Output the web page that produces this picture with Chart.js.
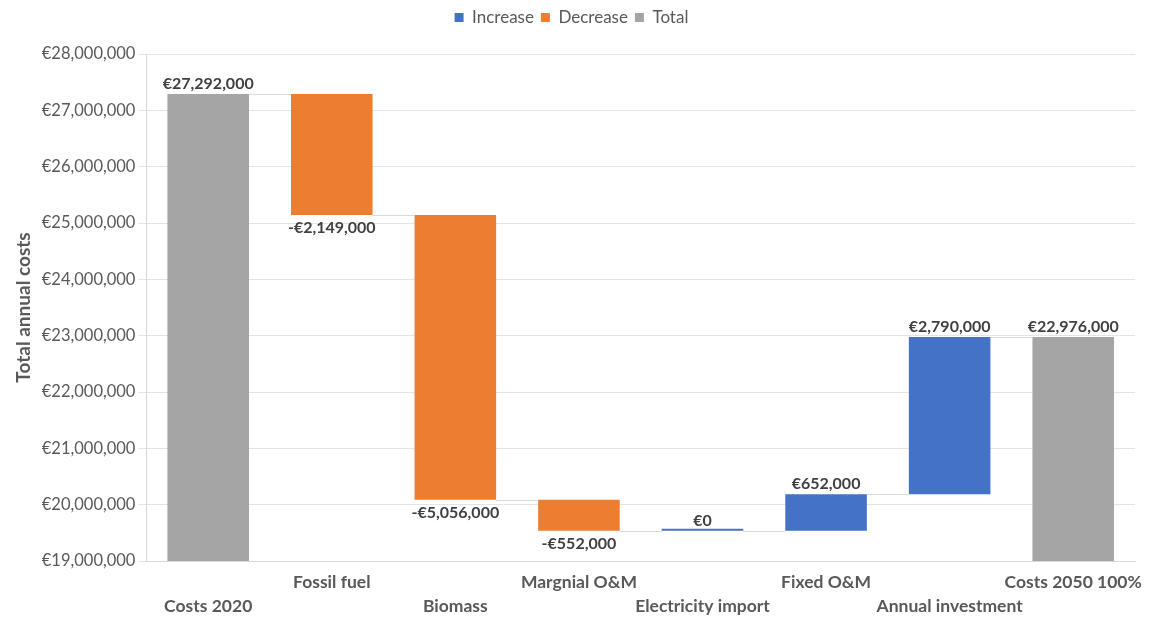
<!DOCTYPE html>
<html lang="en">
<head>
    <meta charset="UTF-8">
    <title>Total annual costs waterfall</title>
    <script src="https://cdn.jsdelivr.net/npm/chart.js"></script>
    <style>
        html, body { margin: 0; padding: 0; background: #fff; }
        #wrap { width: 1149px; height: 619px; }
    </style>
</head>
<body>
    <div id="wrap"><canvas id="waterfall"></canvas></div>

    <script>
        // Chart data
        const categories = ['Costs 2020', 'Fossil fuel', 'Biomass', 'Margnial O&M', 'Electricity import', 'Fixed O&M', 'Annual investment', 'Costs 2050 100%'];
        const kinds = ['total', 'decrease', 'decrease', 'decrease', 'increase', 'increase', 'increase', 'total'];
        const values = [27292000, -2149000, -5056000, -552000, 0, 652000, 2790000, 22976000];
        const yTicks = { min: 19000000, max: 28000000, step: 1000000 };

        const colors = { increase: '#4472C4', decrease: '#ED7D31', total: '#A5A5A5' };
        const FONT = 'Lato, "Open Sans", sans-serif';

        // build floating bar ranges from the running total
        const ranges = [];
        let running = 0;
        values.forEach((v, i) => {
            if (kinds[i] === 'total') {
                ranges.push([0, v]);
                running = v;
            } else {
                ranges.push([running, running + v]);
                running += v;
            }
        });

        function seriesFor(kind) {
            return ranges.map((r, i) => kinds[i] === kind ? r : null);
        }

        const euro = v => (v < 0 ? '-€' : '€') + Math.abs(v).toLocaleString('en-US');

        // extra room under the legend
        const legendGap = {
            id: 'legendGap',
            beforeInit(chart) {
                const fit = chart.legend.fit;
                chart.legend.fit = function () {
                    fit.bind(chart.legend)();
                    this.height += 18;
                };
            }
        };

        // connectors + value labels
        const waterfallExtras = {
            id: 'waterfallExtras',
            afterDatasetsDraw(chart) {
                const ctx = chart.ctx;
                const y = chart.scales.y;
                const bars = categories.map((c, i) => {
                    for (let d = 0; d < chart.data.datasets.length; d++) {
                        if (chart.data.datasets[d].data[i]) return chart.getDatasetMeta(d).data[i];
                    }
                });

                ctx.save();
                ctx.strokeStyle = '#d9d9d9';
                ctx.lineWidth = 1;
                for (let i = 0; i < bars.length - 1; i++) {
                    const level = ranges[i][1];
                    const py = Math.round(y.getPixelForValue(level)) + 0.5;
                    ctx.beginPath();
                    ctx.moveTo(bars[i].x + bars[i].width / 2, py);
                    ctx.lineTo(bars[i + 1].x - bars[i + 1].width / 2, py);
                    ctx.stroke();
                }

                ctx.fillStyle = '#404040';
                ctx.font = 'bold 16px ' + FONT;
                ctx.textAlign = 'center';
                values.forEach((v, i) => {
                    const top = y.getPixelForValue(Math.max(ranges[i][0], ranges[i][1]));
                    const bottom = y.getPixelForValue(Math.min(ranges[i][0], ranges[i][1]));
                    if (kinds[i] === 'decrease') {
                        ctx.textBaseline = 'top';
                        ctx.fillText(euro(v), bars[i].x, bottom + 5);
                    } else {
                        ctx.textBaseline = 'bottom';
                        ctx.fillText(euro(v), bars[i].x, top - 2);
                    }
                });
                ctx.restore();
            }
        };

        const dsBase = { grouped: false, categoryPercentage: 1, barPercentage: 0.66, borderSkipped: false };

        new Chart(document.getElementById('waterfall'), {
            type: 'bar',
            data: {
                labels: categories,
                datasets: [
                    { ...dsBase, label: 'Increase', data: seriesFor('increase'), backgroundColor: colors.increase, minBarLength: 2 },
                    { ...dsBase, label: 'Decrease', data: seriesFor('decrease'), backgroundColor: colors.decrease },
                    { ...dsBase, label: 'Total', data: seriesFor('total'), backgroundColor: colors.total }
                ]
            },
            options: {
                responsive: true,
                maintainAspectRatio: false,
                animation: false,
                layout: { padding: { left: 8, right: 14, top: 2, bottom: 0 } },
                plugins: {
                    legend: {
                        position: 'top',
                        labels: {
                            boxWidth: 9, boxHeight: 9, padding: 7,
                            color: '#595959',
                            font: { family: FONT, size: 17 }
                        }
                    },
                    tooltip: { enabled: false }
                },
                scales: {
                    x: {
                        grid: { display: false, drawTicks: false, tickLength: 0 },
                        border: { color: '#d9d9d9' },
                        afterFit: scale => { scale.height = 58; scale.paddingRight = 0; },
                        ticks: {
                            autoSkip: false, maxRotation: 0, padding: 10,
                            color: '#595959',
                            font: { family: FONT, size: 17.5, weight: 'bold', lineHeight: 1.35 },
                            callback: (v, i) => i % 2 === 0 ? ['', categories[i]] : categories[i]
                        }
                    },
                    y: {
                        min: yTicks.min, max: yTicks.max,
                        grid: { color: '#e4e4e4' },
                        border: { color: '#d9d9d9' },
                        ticks: {
                            stepSize: yTicks.step,
                            color: '#595959',
                            font: { family: FONT, size: 16.5 },
                            callback: v => euro(v)
                        },
                        title: {
                            display: true, text: 'Total annual costs',
                            color: '#595959',
                            font: { family: FONT, size: 19, weight: 'bold' }
                        }
                    }
                }
            },
            plugins: [legendGap, waterfallExtras]
        });
    </script>
</body>
</html>
